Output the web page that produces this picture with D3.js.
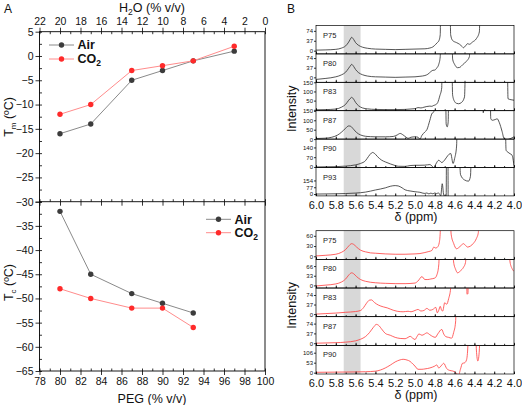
<!DOCTYPE html>
<html><head><meta charset="utf-8">
<script src="https://cdn.jsdelivr.net/npm/d3@7"></script>
<style>body{margin:0;background:#fff} svg{display:block;font-family:"Liberation Sans",Arial,sans-serif}</style>
</head><body><svg id="c" width="522" height="405"></svg>
<script>
// ---------- Panel A data ----------
const pegTicks = [78,80,82,84,86,88,90,92,94,96,98,100];
const h2oTicks = [22,20,18,16,14,12,10,8,6,4,2,0];
const tmTicks = [-30,-25,-20,-15,-10,-5,0,5];
const tcTicks = [-65,-60,-55,-50,-45,-40,-35,-30];
const tmPeg = [80,83,87,90,93,97];
const tmAir = [-16,-14,-5,-3,-1,1];
const tmCO2 = [-12,-10,-3,-2,-1,2];
const tcPeg = [80,83,87,90,93];
const tcAir = [-32,-45,-49,-51,-53];
const tcCO2 = [-48,-50,-52,-52,-56];
const seriesNames = ["Air","CO2"];

// ---------- Panel B data (ppm, intensity); 999 = off scale, null = gap ----------
const ppmTicks = [6.0,5.8,5.6,5.4,5.2,5.0,4.8,4.6,4.4,4.2,4.0];
const bandPpm = [5.72,5.55];
const airNames = ["P75","P80","P83","P87","P90","P93"];
const airDomains = [[-12,94],[-19,90],[-5,150],[0,151],[-4,200],[-21,301]];
const airTicks = [[0,37,74],[0,37,74],[0,50,100,150],[0,50,100,150],[0,70,140],[0,77,154]];
const airHiddenLabels = [[],[],[0],[],[],[]];
const airP75 = [[6.00,2],[5.90,3],[5.80,5],[5.74,10],[5.70,18],[5.67,32],[5.645,48],[5.64,50],[5.62,42],[5.60,30],[5.57,20],[5.53,13],[5.48,9],[5.40,6],[5.30,5],[5.20,4],[5.10,5],[5.00,6],[4.90,7],[4.85,10],[4.82,14],[4.79,24],[4.775,30],[4.76,36],[4.745,60],[4.73,999],[4.66,999],[4.64,60],[4.62,38],[4.58,30],[4.55,24],[4.52,14],[4.51,11],[4.49,18],[4.47,26],[4.45,24],[4.42,32],[4.38,45],[4.35,70],[4.32,999],[4.00,999]];
const airP80 = [[6.00,-8],[5.90,-4],[5.80,2],[5.74,10],[5.70,20],[5.67,35],[5.645,48],[5.64,50],[5.62,42],[5.60,30],[5.57,18],[5.53,10],[5.48,5],[5.40,2],[5.30,1],[5.20,0],[5.10,1],[5.00,2],[4.95,4],[4.90,7],[4.87,12],[4.84,22],[4.82,27],[4.80,28],[4.78,36],[4.76,50],[4.745,80],[4.73,999],[4.64,999],[4.62,70],[4.60,50],[4.57,37],[4.55,38],[4.52,48],[4.48,62],[4.45,80],[4.43,999],[4.00,999]];
const airP83 = [[6.00,0],[5.90,1],[5.80,4],[5.74,15],[5.70,30],[5.67,52],[5.645,66],[5.64,68],[5.62,58],[5.60,40],[5.57,22],[5.53,10],[5.48,5],[5.40,2],[5.30,1],[5.20,1],[5.10,2],[5.05,4],[5.00,6],[4.97,12],[4.94,10],[4.91,14],[4.88,18],[4.85,20],[4.83,19],[4.81,24],[4.79,28],[4.77,40],[4.75,75],[4.73,120],[4.72,999],[4.64,999],[4.62,80],[4.60,45],[4.58,35],[4.56,33],[4.53,40],[4.50,70],[4.47,999],[4.08,999],[4.06,60],[4.03,55],[4.00,52]];
const airP87 = [[6.00,3],[5.90,5],[5.84,10],[5.78,22],[5.74,38],[5.70,58],[5.67,70],[5.65,68],[5.62,52],[5.59,35],[5.55,22],[5.50,15],[5.45,13],[5.40,12],[5.30,12],[5.22,14],[5.18,22],[5.15,30],[5.12,22],[5.09,10],[5.07,4],[5.04,10],[5.00,12],[4.97,10],[4.95,0],[4.93,20],[4.90,38],[4.88,50],[4.85,100],[4.83,135],[4.81,145],[4.80,999],[4.70,999],[4.685,80],[4.675,65],[4.665,90],[4.65,999],[4.32,999],[4.31,140],[4.30,999],[4.25,999],[4.235,110],[4.22,100],[4.19,104],[4.17,108],[4.15,90],[4.12,40],[4.10,2],[4.07,-2],[4.04,2],[4.00,12]];
const airP90 = [[6.00,0],[5.80,2],[5.70,6],[5.60,15],[5.55,25],[5.50,45],[5.47,75],[5.44,100],[5.43,104],[5.41,98],[5.38,75],[5.34,50],[5.30,36],[5.25,22],[5.20,10],[5.17,5],[5.10,4],[5.05,10],[5.00,12],[4.95,12],[4.90,13],[4.85,17],[4.83,8],[4.81,-6],[4.79,20],[4.76,48],[4.73,32],[4.70,50],[4.67,80],[4.64,97],[4.615,25],[4.60,60],[4.58,150],[4.56,999],[4.10,999],[4.08,120],[4.06,105],[4.04,95],[4.02,85],[4.00,10]];
const airP93 = [[6.00,0],[5.80,3],[5.60,11],[5.50,22],[5.40,46],[5.30,70],[5.25,88],[5.20,96],[5.17,92],[5.13,70],[5.10,48],[5.05,35],[5.00,26],[4.95,20],[4.92,10],[4.90,7],[4.88,12],[4.86,2],[4.84,10],[4.82,3],[4.80,12],[4.78,4],[4.765,14],[4.75,-5],[4.74,-21],[4.725,117],[4.71,-10],[4.70,-25],[4.685,-25],[4.68,999],[4.67,999],[4.665,-100],[4.62,null],[4.56,999],[4.54,220],[4.50,160],[4.46,146],[4.44,200],[4.42,999],[4.00,999]];
const co2Names = ["P75","P80","P83","P87","P90"];
const co2Domains = [[-9,75],[-9,89],[-10,101],[-8,100],[-7,145]];
const co2Ticks = [[0,30,60],[0,33,66],[0,37,74],[0,37,74],[0,53,106]];
const co2HiddenLabels = [[],[],[],[],[]];
const co2P75 = [[6.00,1],[5.90,3],[5.80,6],[5.74,12],[5.70,20],[5.67,30],[5.64,37],[5.62,35],[5.59,27],[5.55,18],[5.50,13],[5.45,10],[5.40,9],[5.30,7],[5.20,6],[5.10,6],[5.00,7],[4.95,8],[4.90,11],[4.86,14],[4.83,17],[4.81,27],[4.79,24],[4.77,28],[4.755,40],[4.745,70],[4.735,200],[4.65,200],[4.635,65],[4.61,38],[4.58,22],[4.56,25],[4.53,33],[4.51,37],[4.49,32],[4.47,27],[4.44,30],[4.41,38],[4.38,52],[4.36,70],[4.35,200],[4.00,200]];
const co2P80 = [[6.00,-2],[5.90,1],[5.80,5],[5.74,12],[5.70,22],[5.67,35],[5.64,43],[5.62,40],[5.59,30],[5.55,20],[5.50,14],[5.40,9],[5.30,7],[5.20,6],[5.10,6],[5.00,8],[4.97,15],[4.93,30],[4.90,20],[4.87,20],[4.84,22],[4.80,25],[4.78,35],[4.76,70],[4.745,200],[4.63,200],[4.61,80],[4.59,55],[4.57,43],[4.54,50],[4.51,62],[4.49,78],[4.47,200],[4.06,200],[4.04,80],[4.02,58],[4.00,48]];
const co2P83 = [[6.00,0],[5.90,2],[5.80,4],[5.70,7],[5.60,10],[5.55,14],[5.52,25],[5.49,42],[5.46,54],[5.44,55],[5.41,45],[5.37,35],[5.32,28],[5.28,24],[5.22,15],[5.18,11],[5.12,9],[5.07,11],[5.04,9],[5.00,14],[4.97,18],[4.94,12],[4.91,14],[4.88,22],[4.85,15],[4.82,18],[4.79,26],[4.775,5],[4.76,15],[4.745,30],[4.73,14],[4.72,12],[4.70,44],[4.68,38],[4.66,60],[4.64,100],[4.63,300],[4.48,300],[4.475,77],[4.465,80],[4.46,300],[4.00,300]];
const co2P87 = [[6.00,0],[5.90,1],[5.80,2],[5.70,4],[5.60,9],[5.55,15],[5.50,25],[5.46,40],[5.42,60],[5.39,71],[5.37,68],[5.33,50],[5.30,37],[5.25,30],[5.20,22],[5.15,18],[5.10,17],[5.07,22],[5.05,26],[5.02,18],[5.00,14],[4.98,25],[4.96,35],[4.93,30],[4.91,33],[4.88,39],[4.85,32],[4.82,25],[4.795,22],[4.77,35],[4.73,52],[4.71,35],[4.69,25],[4.66,22],[4.63,19],[4.61,40],[4.59,80],[4.575,300],[4.00,300]];
const co2P90 = [[6.00,2],[5.80,3],[5.60,4],[5.50,5],[5.40,8],[5.35,14],[5.30,25],[5.25,40],[5.20,57],[5.15,68],[5.12,71],[5.08,67],[5.05,60],[5.02,45],[5.00,35],[4.97,18],[4.93,18],[4.90,20],[4.85,25],[4.80,35],[4.78,41],[4.76,25],[4.73,40],[4.71,50],[4.68,22],[4.65,12],[4.62,9],[4.59,2],[4.56,-12],[4.54,20],[4.52,50],[4.50,52],[4.48,67],[4.465,150],[4.45,400],[4.395,400],[4.38,120],[4.365,62],[4.35,120],[4.335,400],[4.00,400]];
const airSpectra = [airP75,airP80,airP83,airP87,airP90,airP93];
const co2Spectra = [co2P75,co2P80,co2P83,co2P87,co2P90];

// ---------- styles ----------
const C = {airLine:"#8a8a8a", airDot:"#3c3c3c", co2Line:"#ff8c8c", co2Dot:"#ff2a2a", spAir:"#2b2b2b", spCo2:"#ff3b3b", band:"#d8d8d8"};
const svg = d3.select("#c");

// ================= PANEL A =================
const xA = d3.scaleLinear().domain([78,100]).range([39.5,265]);
const xH = d3.scaleLinear().domain([22,0]).range([39.5,265]);
const yT = d3.scaleLinear().domain([-30,5]).range([201.7,31.7]);
const yB = d3.scaleLinear().domain([-65,-30]).range([371,201.7]);
const fontA = "10.5px";

function styleAxis(g, fs){
  g.select(".domain").remove();
  g.selectAll("line").attr("stroke","#000").attr("stroke-width",0.8);
  g.selectAll("text").attr("font-size",fs).attr("fill","#111");
}
function minorVals(dom, step){ const a=[]; const lo=Math.min(...dom), hi=Math.max(...dom); for(let v=lo; v<=hi+1e-9; v+=step) a.push(+v.toFixed(3)); return a; }

function yAxisA(scale, majors, labelSkip){
  svg.append("g").attr("transform","translate(39.5,0)")
    .call(d3.axisLeft(scale).tickValues(majors).tickSizeInner(4).tickSizeOuter(0).tickPadding(2)
      .tickFormat(d=> labelSkip.includes(d) ? "" : d3.format("")(d)))
    .call(g=>styleAxis(g,fontA));
  svg.append("g").attr("transform","translate(39.5,0)")
    .call(d3.axisLeft(scale).tickValues(minorVals(scale.domain(),2.5)).tickSize(-2.5).tickFormat(""))
    .call(g=>styleAxis(g,fontA));
}
yAxisA(yT, tmTicks, [-30]);
yAxisA(yB, tcTicks, []);

function xAxisA(scale, y, gen, majors, minorStep, showLabels){
  svg.append("g").attr("transform",`translate(0,${y})`)
    .call(gen(scale).tickValues(majors).tickSizeInner(4).tickSizeOuter(0).tickPadding(3)
      .tickFormat(showLabels ? d3.format("") : ""))
    .call(g=>styleAxis(g,fontA));
  svg.append("g").attr("transform",`translate(0,${y})`)
    .call(gen(scale).tickValues(minorVals(scale.domain(),minorStep)).tickSize(-2.5).tickFormat(""))
    .call(g=>styleAxis(g,fontA));
}
xAxisA(xH, yT(5), d3.axisTop, h2oTicks, 1, true);
xAxisA(xA, yT(-30), d3.axisBottom, pegTicks, 1, false);
xAxisA(xA, yB(-65), d3.axisBottom, pegTicks, 1, true);

svg.append("rect").attr("x",xA(78)).attr("y",yT(5)).attr("width",xA(100)-xA(78)).attr("height",yB(-65)-yT(5))
  .attr("fill","none").attr("stroke","#000").attr("stroke-width",0.9);
svg.append("line").attr("x1",xA(78)).attr("x2",xA(100)).attr("y1",yT(-30)).attr("y2",yT(-30)).attr("stroke","#000").attr("stroke-width",0.9);

function drawSeries(xs, ys, yScale, lineCol, dotCol){
  const pts = xs.map((x,i)=>({x, y: ys[i]}));
  svg.append("path").datum(pts).attr("fill","none").attr("stroke",lineCol).attr("stroke-width",1)
    .attr("d", d3.line().x(d=>xA(d.x)).y(d=>yScale(d.y)));
  svg.append("g").selectAll("circle").data(pts).join("circle")
    .attr("cx",d=>xA(d.x)).attr("cy",d=>yScale(d.y)).attr("r",2.7).attr("fill",dotCol);
}
drawSeries(tmPeg, tmAir, yT, C.airLine, C.airDot);
drawSeries(tmPeg, tmCO2, yT, C.co2Line, C.co2Dot);
drawSeries(tcPeg, tcAir, yB, C.airLine, C.airDot);
drawSeries(tcPeg, tcCO2, yB, C.co2Line, C.co2Dot);

function legend(x0, y0, dy){
  [[C.airLine,C.airDot],[C.co2Line,C.co2Dot]].forEach((c,i)=>{
    const y = y0 + i*dy;
    svg.append("line").attr("x1",x0).attr("x2",x0+25).attr("y1",y).attr("y2",y).attr("stroke",c[0]).attr("stroke-width",1);
    svg.append("circle").attr("cx",x0+12.5).attr("cy",y).attr("r",2.7).attr("fill",c[1]);
    const t = svg.append("text").attr("x",x0+28.5).attr("y",y+4.3).attr("font-size","12.5px").attr("font-weight","bold").attr("fill","#111");
    if(seriesNames[i]==="CO2"){ t.append("tspan").text("CO"); t.append("tspan").attr("font-size","8.5px").attr("dy",3).text("2"); }
    else t.text(seriesNames[i]);
  });
}
legend(49, 45, 14);
legend(206, 219.3, 13.4);

svg.append("text").attr("x",4).attr("y",13).attr("font-size","12px").attr("fill","#111").text("A");
const h2o = svg.append("text").attr("x",152).attr("y",11.5).attr("text-anchor","middle").attr("font-size","12.5px").attr("fill","#111");
h2o.append("tspan").text("H"); h2o.append("tspan").attr("font-size","8.5px").attr("dy",3).text("2"); h2o.append("tspan").attr("dy",-3).text("O (% v/v)");
svg.append("text").attr("x",152).attr("y",403).attr("text-anchor","middle").attr("font-size","12.5px").attr("fill","#111").text("PEG (% v/v)");
function yTitle(cy, sub){
  const t = svg.append("text").attr("transform",`translate(12.5,${cy}) rotate(-90)`).attr("text-anchor","middle").attr("font-size","12.5px").attr("fill","#111");
  t.append("tspan").text("T"); t.append("tspan").attr("font-size","8px").attr("dy",3).text(sub); t.append("tspan").attr("dy",-3).text(" (ºC)");
}
yTitle(117, "m");
yTitle(282.5, "c");

// ================= PANEL B =================
const xB = d3.scaleLinear().domain([6.0,4.0]).range([316,514]);
svg.append("text").attr("x",287).attr("y",13).attr("font-size","12px").attr("fill","#111").text("B");

function group(top, h, names, domains, ticks, hidden, spectra, col, clipId, titleShift){
  const n = names.length, bottom = top + n*h;
  svg.append("rect").attr("x",xB(bandPpm[0])).attr("y",top).attr("width",xB(bandPpm[1])-xB(bandPpm[0])).attr("height",n*h).attr("fill",C.band);
  names.forEach((nm,i)=>{
    const y0 = top + i*h, y1 = y0 + h;
    const yS = d3.scaleLinear().domain(domains[i]).range([y1,y0]);
    const cid = clipId + i;
    svg.append("clipPath").attr("id",cid).append("rect").attr("x",xB(6)).attr("y",y0).attr("width",xB(4)-xB(6)).attr("height",h);
    svg.append("path").datum(spectra[i]).attr("clip-path",`url(#${cid})`).attr("fill","none").attr("stroke",col).attr("stroke-width",0.8)
      .attr("d", d3.line().defined(d=>d[1]!==null).curve(d3.curveMonotoneX).x(d=>xB(d[0])).y(d=>yS(d[1])));
    svg.append("rect").attr("x",xB(6)).attr("y",y0).attr("width",xB(4)-xB(6)).attr("height",h).attr("fill","none").attr("stroke","#000").attr("stroke-width",0.7);
    svg.append("g").attr("transform",`translate(${xB(6)},0)`)
      .call(d3.axisLeft(yS).tickValues(ticks[i]).tickSize(2).tickPadding(1).tickFormat(d=> hidden[i].includes(d) ? "" : d3.format("")(d)))
      .call(g=>styleAxis(g,"6px"));
    svg.append("g").attr("transform",`translate(0,${y1})`)
      .call(d3.axisBottom(xB).tickValues(ppmTicks).tickSize(-2.5).tickFormat(""))
      .call(g=>styleAxis(g,"6px"));
    svg.append("g").attr("transform",`translate(0,${y1})`)
      .call(d3.axisBottom(xB).tickValues(minorVals([4,6],0.1)).tickSize(-1.5).tickFormat(""))
      .call(g=>styleAxis(g,"6px"));
    svg.append("text").attr("x",323).attr("y",y0+12).attr("font-size","7.5px").attr("fill","#222").text(nm);
  });
  svg.append("g").attr("transform",`translate(0,${bottom})`)
    .call(d3.axisBottom(xB).tickValues(ppmTicks).tickSize(0).tickPadding(5).tickFormat(d3.format(".1f")))
    .call(g=>styleAxis(g,"11px"));
  svg.append("text").attr("x",416).attr("y",bottom+25).attr("text-anchor","middle").attr("font-size","12.5px").attr("fill","#111").text("δ (ppm)");
  svg.append("text").attr("transform",`translate(295.5,${(top+bottom)/2+titleShift}) rotate(-90)`).attr("text-anchor","middle").attr("font-size","12.5px").attr("fill","#111").text("Intensity");
}
group(25.5, 28.4, airNames, airDomains, airTicks, airHiddenLabels, airSpectra, C.spAir, "ca", -2);
group(230.7, 28.66, co2Names, co2Domains, co2Ticks, co2HiddenLabels, co2Spectra, C.spCo2, "cc", 3);
</script></body></html>
